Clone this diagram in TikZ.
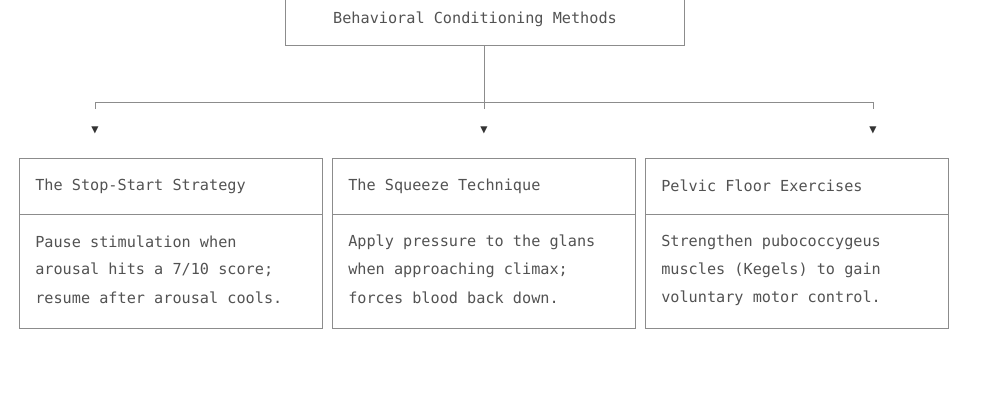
\documentclass[tikz,border=0pt]{standalone}
\usepackage{fontspec}
\setmainfont{DejaVu Sans Mono}
\begin{document}
\begin{tikzpicture}[x=0.75pt,y=-0.75pt,
  ln/.style={draw=black!45,line width=0.6pt},
  txt/.style={text=black!68,font=\fontsize{11.4}{14}\selectfont,inner sep=0pt,anchor=west},
  tri/.style={text=black!80,font=\fontsize{9}{10}\selectfont,inner sep=0pt}]
\useasboundingbox (0,0) rectangle (1000,400);
% top box
\draw[ln] (285,0) -- (285,45) -- (684,45) -- (684,0);
\node[txt,anchor=center] (root) at (475,19) {Behavioral Conditioning Methods};
\coordinate (rb) at (484,45);
\coordinate (hub) at (484,102);
\coordinate (l) at (95,102);
\coordinate (r) at (873,102);
\node[tri] (a1) at (95,130) {▼};
\node[tri] (a2) at (484,130) {▼};
\node[tri] (a3) at (873,130) {▼};
\draw[ln] (rb) -- (hub);
\draw[ln] (l) -- (r);
\draw[ln] (l) -- ++(0,7);
\draw[ln] (r) -- ++(0,7);
\draw[ln] (hub) -- ++(0,7);
% boxes
\foreach \x/\n/\t/\a/\b/\c in {
 19/b1/The Stop-Start Strategy/Pause stimulation when/arousal hits a 7\slash 10 score;/resume after arousal cools.,
 332/b2/The Squeeze Technique/Apply pressure to the glans/when approaching climax;/forces blood back down.,
 645/b3/Pelvic Floor Exercises/Strengthen pubococcygeus/muscles (Kegels) to gain/voluntary motor control.}{
  \draw[ln] (\x,158) rectangle (\x+303,328);
  \draw[ln] (\x,214) -- (\x+303,214);
  \node[txt] (\n t) at (\x+16,186) {\t};
  \node[txt] (\n a) at (\x+16,242) {\a};
  \node[txt] (\n b) at (\x+16,270) {\b};
  \node[txt] (\n c) at (\x+16,298) {\c};
}
\end{tikzpicture}
\end{document}
